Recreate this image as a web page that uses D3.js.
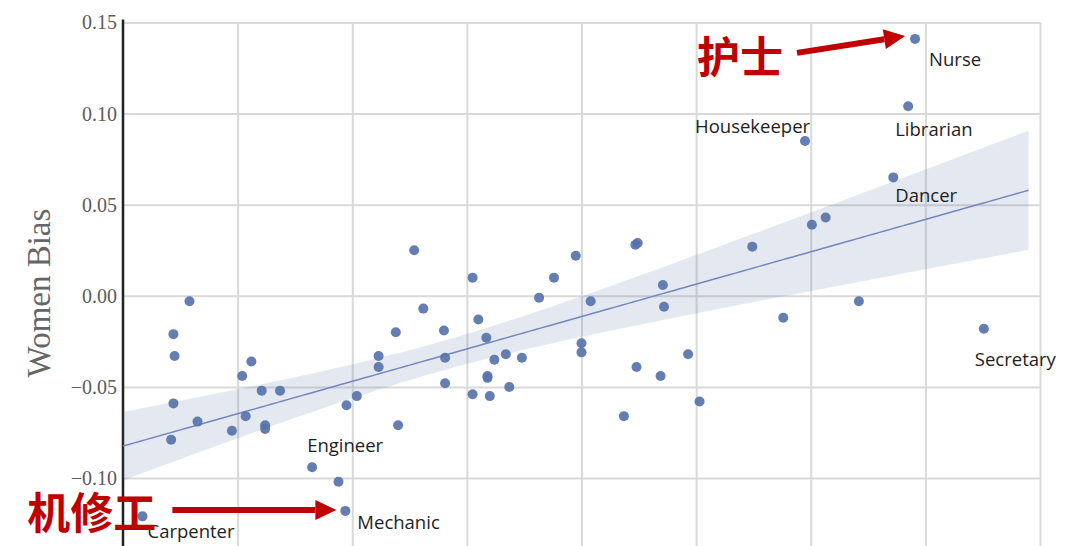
<!DOCTYPE html>
<html>
<head>
<meta charset="utf-8">
<script src="https://cdn.jsdelivr.net/npm/d3@7"></script>
<style>
  body { margin: 0; background: #fff; }
</style>
</head>
<body>
<div id="chart"></div>
<script>
'use strict';

// one entry per occupation, only the annotated ones carry a name
const names = [
  'Carpenter', '', '', '', '', '', '', '', '', '',
  '', '', '', '', '', 'Engineer', '', 'Mechanic', '', '',
  '', '', '', '', '', '', '', '', '', '',
  '', '', '', '', '', '', '', '', '', '',
  '', '', '', '', '', '', '', '', '', '',
  '', '', '', '', '', '', '', 'Housekeeper', '', '',
  '', 'Dancer', 'Librarian', 'Nurse', 'Secretary'
];
const shareX = [
  1.7, 4.2, 4.4, 4.4, 4.5, 5.8, 6.5, 9.5, 10.4, 10.7,
  11.2, 12.1, 12.4, 12.4, 13.7, 16.5, 18.8, 19.4, 19.5, 20.4,
  22.3, 22.3, 23.8, 24.0, 25.4, 26.2, 28.0, 28.1, 28.1, 30.5,
  30.5, 31.0, 31.7, 31.8, 31.8, 32.0, 32.4, 33.4, 33.7, 34.8,
  36.3, 37.6, 39.5, 40.0, 40.0, 40.8, 43.7, 44.7, 44.9, 44.8,
  46.9, 47.1, 47.2, 49.3, 50.3, 54.9, 57.6, 59.5, 60.1, 61.3,
  64.2, 67.2, 68.5, 69.1, 75.1
];
const womenBias = [
  -0.121, -0.079, -0.059, -0.021, -0.033, -0.003, -0.069, -0.074, -0.044, -0.066,
  -0.036, -0.052, -0.071, -0.073, -0.052, -0.094, -0.102, -0.118, -0.060, -0.055,
  -0.033, -0.039, -0.020, -0.071, 0.025, -0.007, -0.019, -0.034, -0.048, 0.010,
  -0.054, -0.013, -0.023, -0.044, -0.045, -0.055, -0.035, -0.032, -0.050, -0.034,
  -0.001, 0.010, 0.022, -0.026, -0.031, -0.003, -0.066, 0.028, 0.029, -0.039,
  -0.044, 0.006, -0.006, -0.032, -0.058, 0.027, -0.012, 0.085, 0.039, 0.043,
  -0.003, 0.065, 0.104, 0.141, -0.018
];
const yTicks = [-0.10, -0.05, 0.00, 0.05, 0.10, 0.15];
const xTicks = [10, 20, 30, 40, 50, 60, 70, 80];

// chinese call-outs pointing at two occupations
const calloutText = ['护士', '机修工'];
const calloutTarget = ['Nurse', 'Mechanic'];

// label placement (pixels from the point)
const labelOffset = {
  Carpenter: [5, 22], Engineer: [-5, -15], Mechanic: [12, 18],
  Housekeeper: [-110, -8], Dancer: [2, 25], Librarian: [-13, 30],
  Nurse: [14, 27], Secretary: [-9, 37]
};
const calloutStyle = {
  Nurse: { text: [-218, 34], tip: [-10, -3], tail: [-118, 14] },
  Mechanic: { text: [-318, 18], tip: [-9, -1], tail: [-173, -1] }
};

let width = 1080, height = 546;
let pointColor = '#5873aa';

let data = names.map(function(n, i) {
  return { name: n, x: shareX[i], y: womenBias[i] };
});

let svg = d3.select('#chart').append('svg')
  .attr('width', width)
  .attr('height', height);

let x = d3.scaleLinear().domain([0, 80]).range([123, 1040]);
let y = d3.scaleLinear().domain([-0.14, 0.15]).range([551, 22.5]);

// horizontal grid + tick labels
let yAxis = svg.append('g')
  .attr('transform', 'translate(' + x(0) + ',0)')
  .call(d3.axisLeft(y)
    .tickValues(yTicks)
    .tickFormat(d3.format('.2f'))
    .tickSize(-(x(80) - x(0)))
    .tickPadding(6));
yAxis.select('.domain').remove();
yAxis.selectAll('.tick line')
  .style('stroke', '#d9d9d9')
  .style('stroke-width', 2);
yAxis.selectAll('.tick text')
  .style('font-family', '"Liberation Serif", serif')
  .style('font-size', '20px')
  .style('fill', '#5c5c5c');

// vertical grid (x labels fall outside the crop)
let xAxis = svg.append('g')
  .attr('transform', 'translate(0,' + y(-0.14) + ')')
  .call(d3.axisBottom(x)
    .tickValues(xTicks)
    .tickFormat('')
    .tickSize(-(y(-0.14) - y(0.15))));
xAxis.select('.domain').remove();
xAxis.selectAll('.tick line')
  .style('stroke', '#d9d9d9')
  .style('stroke-width', 2);

// left spine
svg.append('line')
  .attr('x1', x(0)).attr('x2', x(0))
  .attr('y1', y(0.15) - 3).attr('y2', height)
  .style('stroke', '#222')
  .style('stroke-width', 2.5);

// y label
svg.append('text')
  .attr('transform', 'translate(50,' + 293 + ') rotate(-90)')
  .attr('text-anchor', 'middle')
  .style('font-family', '"Liberation Serif", serif')
  .style('font-size', '33px')
  .style('fill', '#666')
  .text('Women Bias');

// least squares fit with robust (sandwich) confidence band
let n = data.length;
let mx = d3.mean(data, function(d) { return d.x; });
let my = d3.mean(data, function(d) { return d.y; });
let sxx = d3.sum(data, function(d) { return (d.x - mx) * (d.x - mx); });
let sxy = d3.sum(data, function(d) { return (d.x - mx) * (d.y - my); });
let slope = sxy / sxx;
let resid = data.map(function(d) { return d.y - (my + slope * (d.x - mx)); });
let hc = n / (n - 2);
let vA = hc * d3.sum(resid, function(e) { return e * e; }) / (n * n);
let vB = hc * d3.sum(data, function(d, i) {
  return Math.pow(d.x - mx, 2) * resid[i] * resid[i];
}) / (sxx * sxx);
let cAB = hc * d3.sum(data, function(d, i) {
  return (d.x - mx) * resid[i] * resid[i];
}) / (n * sxx);

let fit = d3.range(0, 79.01, 0.5).map(function(v) {
  let dx = v - mx;
  let yhat = my + slope * dx;
  let se = Math.sqrt(vA + dx * dx * vB + 2 * dx * cAB);
  return { x: v, y: yhat, lo: yhat - 1.96 * se, hi: yhat + 1.96 * se };
});

svg.append('path')
  .datum(fit)
  .attr('d', d3.area()
    .x(function(d) { return x(d.x); })
    .y0(function(d) { return y(d.lo); })
    .y1(function(d) { return y(d.hi); }))
  .style('fill', pointColor)
  .style('fill-opacity', 0.16);

svg.append('path')
  .datum(fit)
  .attr('d', d3.line()
    .x(function(d) { return x(d.x); })
    .y(function(d) { return y(d.y); }))
  .style('fill', 'none')
  .style('stroke', '#7388bd')
  .style('stroke-width', 1.5);

// occupations
svg.append('g')
  .selectAll('circle')
  .data(data)
  .enter().append('circle')
  .attr('cx', function(d) { return x(d.x); })
  .attr('cy', function(d) { return y(d.y); })
  .attr('r', 5)
  .style('fill', pointColor)
  .style('fill-opacity', 0.92);

// occupation names
svg.append('g')
  .selectAll('text')
  .data(data.filter(function(d) { return d.name !== ''; }))
  .enter().append('text')
  .attr('x', function(d) { return x(d.x) + labelOffset[d.name][0]; })
  .attr('y', function(d) { return y(d.y) + labelOffset[d.name][1]; })
  .style('font-family', '"Open Sans", sans-serif')
  .style('font-size', '18.5px')
  .style('fill', '#1e1e1e')
  .text(function(d) { return d.name; });

// red call-outs with arrows
let redColor = '#c00000';
calloutTarget.forEach(function(name, i) {
  let p = data.find(function(d) { return d.name === name; });
  let s = calloutStyle[name];
  let px = x(p.x), py = y(p.y);
  let tx = px + s.tip[0], ty = py + s.tip[1];
  let sx = px + s.tail[0], sy = py + s.tail[1];
  let ang = Math.atan2(ty - sy, tx - sx);
  let headLen = 21, headW = 10;
  let bx = tx - headLen * Math.cos(ang), by = ty - headLen * Math.sin(ang);

  svg.append('line')
    .attr('x1', sx).attr('y1', sy)
    .attr('x2', bx).attr('y2', by)
    .style('stroke', redColor)
    .style('stroke-width', 6);

  let head = [
    [tx, ty],
    [bx + headW * Math.sin(ang), by - headW * Math.cos(ang)],
    [bx - headW * Math.sin(ang), by + headW * Math.cos(ang)]
  ];
  svg.append('path')
    .attr('d', d3.line()(head) + 'Z')
    .style('fill', redColor);

  svg.append('text')
    .attr('x', px + s.text[0])
    .attr('y', py + s.text[1])
    .style('font-family', '"Noto Sans CJK SC", sans-serif')
    .style('font-weight', 700)
    .style('font-size', '43px')
    .style('fill', redColor)
    .text(calloutText[i]);
});
</script>
</body>
</html>
